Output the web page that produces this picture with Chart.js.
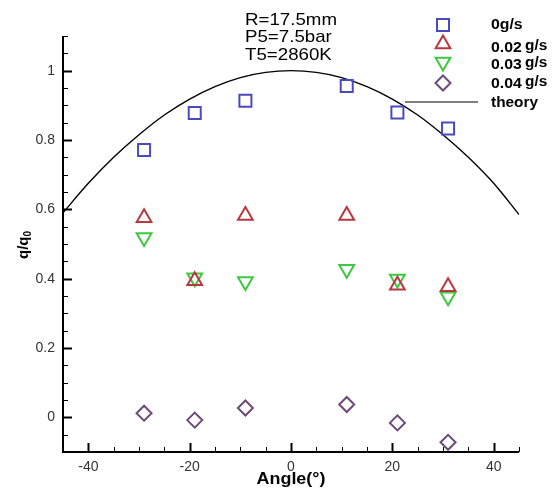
<!DOCTYPE html>
<html>
<head>
<meta charset="utf-8">
<script src="https://cdn.jsdelivr.net/npm/chart.js@4.4.1/dist/chart.umd.min.js"></script>
<style>
html,body{margin:0;padding:0;background:#fff;}
#wrap{width:556px;height:495px;}
</style>
</head>
<body>
<div id="wrap"><canvas id="c" width="556" height="495"></canvas></div>
<script>
// ---- data ----
const angles = [-29, -19, -9, 11, 21, 31];
const q0gs   = [0.771, 0.878, 0.913, 0.956, 0.879, 0.833];
const q002gs = [0.576, 0.394, 0.582, 0.582, 0.381, 0.377];
const q003gs = [0.519, 0.403, 0.392, 0.427, 0.399, 0.348];
const q004gs = [0.012, -0.008, 0.027, 0.037, -0.016, -0.072];
const theoryAngles = [-45,-40,-35,-30,-25,-20,-15,-10,-5,0,5,10,15,20,25,30,35,40,45];
const theoryValues = [0.59,0.675,0.75,0.815,0.872,0.918,0.954,0.98,0.995,1.0,0.995,0.98,0.954,0.918,0.872,0.815,0.75,0.675,0.585];
const xTickValues = [-40, -20, 0, 20, 40];
const xTickLabels = ['-40', '-20', '0', '20', '40'];
const yTickValues = [0, 0.2, 0.4, 0.6, 0.8, 1];
const yTickLabels = ['0', '0.2', '0.4', '0.6', '0.8', '1'];
const seriesNames = ['0g/s', '0.02', '0.03', '0.04', 'theory'];
const annotationLines = ['R=17.5mm', 'P5=7.5bar', 'T5=2860K'];

const C_BLUE = '#4a4ac0', C_RED = '#b8383f', C_GREEN = '#3ec83e', C_PURPLE = '#6e4a7c';

function pts(xs, ys){ return xs.map((x,i)=>({x:x, y:ys[i]})); }

function sText(ctx, txt, x, y, align, sx){
  ctx.save(); ctx.translate(x, y); ctx.scale(sx, 1);
  ctx.textAlign = align; ctx.textBaseline = 'middle';
  ctx.fillText(txt, 0, 0); ctx.restore();
}

const axesPlugin = {
  id: 'axesPlugin',
  beforeDatasetsDraw(chart){
    const ctx = chart.ctx, a = chart.chartArea;
    const xs = chart.scales.x, ys = chart.scales.y;
    ctx.save();
    ctx.strokeStyle = '#000';
    ctx.lineWidth = 2;
    ctx.beginPath();
    ctx.moveTo(a.left, a.top); ctx.lineTo(a.left, a.bottom);
    ctx.lineTo(a.right, a.bottom);
    ctx.stroke();
    // x ticks
    for (let v = -45; v <= 45; v += 5){
      const px = Math.round(xs.getPixelForValue(v)) + 0.5;
      const major = (v % 20 === 0);
      ctx.lineWidth = major ? 2 : 1;
      ctx.beginPath(); ctx.moveTo(px, a.bottom); ctx.lineTo(px, a.bottom - (major ? 9 : 5)); ctx.stroke();
    }
    // y ticks
    for (let k = -2; k <= 22; k++){
      const v = k * 0.05;
      const py = Math.round(ys.getPixelForValue(v)) + 0.5;
      if (py < a.top - 1 || py > a.bottom + 1) continue;
      const major = (k % 4 === 0);
      ctx.lineWidth = major ? 2 : 1;
      ctx.beginPath(); ctx.moveTo(a.left, py); ctx.lineTo(a.left + (major ? 9 : 5), py); ctx.stroke();
    }
    ctx.restore();
  },
  afterDraw(chart){
    const ctx = chart.ctx, a = chart.chartArea;
    ctx.save();
    ctx.fillStyle = '#000';
    // annotation
    ctx.font = '17px "Liberation Sans", Arial, sans-serif';
    annotationLines.forEach((t, i) => sText(ctx, t, 245, 20 + i * 17.5, 'left', 1.1));
    // axis titles
    ctx.font = 'bold 16px "Liberation Sans", Arial, sans-serif';
    sText(ctx, 'Angle(°)', 291, 480, 'center', 1.12);
    ctx.save();
    ctx.translate(24, 245); ctx.rotate(-Math.PI/2);
    ctx.font = 'bold 15px "Liberation Sans", Arial, sans-serif';
    ctx.textBaseline = 'middle'; ctx.textAlign = 'left';
    const w1 = ctx.measureText('q/q').width;
    ctx.font = 'bold 10px "Liberation Sans", Arial, sans-serif';
    const w2 = ctx.measureText('0').width;
    const x0 = -(w1 + w2) / 2;
    ctx.font = 'bold 15px "Liberation Sans", Arial, sans-serif';
    ctx.fillText('q/q', x0, 0);
    ctx.font = 'bold 10px "Liberation Sans", Arial, sans-serif';
    ctx.fillText('0', x0 + w1, 4);
    ctx.restore();
    // legend
    const H = Chart.helpers;
    const mk = [
      {style:'rect', color:C_BLUE, y:25, r:8.5, rot:0},
      {style:'triangle', color:C_RED, y:44, r:8.5, rot:0},
      {style:'triangle', color:C_GREEN, y:62, r:8.5, rot:180},
      {style:'rectRot', color:C_PURPLE, y:83, r:7.5, rot:0}
    ];
    mk.forEach(m => {
      ctx.strokeStyle = m.color; ctx.lineWidth = 2; ctx.fillStyle = 'rgba(0,0,0,0)';
      H.drawPoint(ctx, {pointStyle:m.style, radius:m.r, rotation:m.rot, borderWidth:2}, 443, m.y);
    });
    ctx.fillStyle = '#000';
    ctx.font = 'bold 14px "Liberation Sans", Arial, sans-serif';
    sText(ctx, seriesNames[0], 491, 25, 'left', 1.13);
    [[seriesNames[1], 48], [seriesNames[2], 65], [seriesNames[3], 84]].forEach(([t, y]) => {
      sText(ctx, t, 491, y, 'left', 1.13);
      sText(ctx, 'g/s', 525, y - 2, 'left', 1.1);
    });
    sText(ctx, seriesNames[4], 491, 103, 'left', 1.1);
    ctx.strokeStyle = '#000'; ctx.lineWidth = 1.2;
    ctx.beginPath(); ctx.moveTo(405, 102); ctx.lineTo(478, 102); ctx.stroke();
    ctx.restore();
  }
};

const mkDs = (label, ys, style, color, r, rot) => ({
  label: label, data: pts(angles, ys), pointStyle: style, pointRadius: r, pointHoverRadius: r,
  pointRotation: rot, borderColor: color, backgroundColor: 'rgba(0,0,0,0)', pointBorderWidth: 2,
  showLine: false
});

new Chart(document.getElementById('c'), {
  type: 'scatter',
  data: {
    datasets: [
      {label: 'theory', data: pts(theoryAngles, theoryValues), showLine: true, pointRadius: 0,
       borderColor: '#000', borderWidth: 1.4, cubicInterpolationMode: 'monotone', fill: false, order: 5},
      mkDs('0g/s', q0gs, 'rect', C_BLUE, 8.5, 0),
      mkDs('0.02 g/s', q002gs, 'triangle', C_RED, 8.5, 0),
      mkDs('0.03 g/s', q003gs, 'triangle', C_GREEN, 8.5, 180),
      mkDs('0.04 g/s', q004gs, 'rectRot', C_PURPLE, 7.5, 0)
    ]
  },
  options: {
    responsive: false,
    animation: false,
    events: [],
    layout: {padding: {left: 0, right: 37, top: 36, bottom: 0}},
    plugins: {legend: {display: false}, tooltip: {enabled: false}, title: {display: false}},
    scales: {
      x: {
        type: 'linear', min: -45, max: 45,
        grid: {display: false, drawTicks: false}, border: {display: false},
        afterFit: s => { s.height = 43; },
        afterBuildTicks: s => { s.ticks = xTickValues.map(v => ({value: v})); },
        ticks: {padding: 7, color: '#333', font: {size: 14, family: '"Liberation Sans", Arial, sans-serif'},
                maxRotation: 0, autoSkip: false,
                callback: (v) => xTickLabels[xTickValues.indexOf(v)]}
      },
      y: {
        type: 'linear', min: -0.1, max: 1.1,
        grid: {display: false, drawTicks: false}, border: {display: false},
        afterFit: s => { s.width = 63; },
        afterBuildTicks: s => { s.ticks = yTickValues.map(v => ({value: v})); },
        ticks: {padding: 8, color: '#333', font: {size: 14, family: '"Liberation Sans", Arial, sans-serif'},
                autoSkip: false,
                callback: (v) => { const i = yTickValues.findIndex(t => Math.abs(t - v) < 1e-9); return yTickLabels[i]; }}
      }
    }
  },
  plugins: [axesPlugin]
});
</script>
</body>
</html>
